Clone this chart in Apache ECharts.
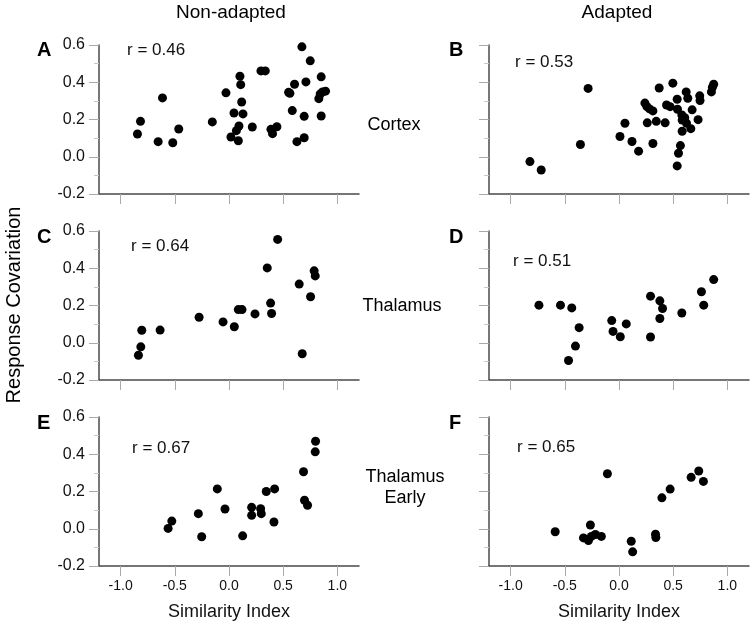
<!DOCTYPE html>
<html>
<head>
<meta charset="utf-8">
<script src="https://cdn.jsdelivr.net/npm/echarts@6/dist/echarts.min.js"></script>
<style>html,body{margin:0;padding:0;background:#fff}#c{width:750px;height:624px}</style>
</head>
<body>
<div id="c"></div>
<script>
// ---- Data (Similarity Index, Response Covariation) ----
const cortexNonAdapted = [
  [-0.845,0.122],[-0.817,0.190],[-0.614,0.316],[-0.654,0.081],[-0.519,0.075],[-0.464,0.149],
  [-0.154,0.187],[-0.028,0.343],[0.018,0.106],[0.046,0.235],[0.086,0.086],[0.068,0.140],
  [0.092,0.165],[0.101,0.432],[0.108,0.387],[0.117,0.294],[0.129,0.230],[0.215,0.160],
  [0.295,0.461],[0.335,0.461],[0.387,0.147],[0.402,0.124],[0.442,0.161],[0.550,0.346],
  [0.562,0.341],[0.584,0.248],[0.605,0.389],[0.627,0.081],[0.673,0.590],[0.694,0.217],
  [0.694,0.102],[0.710,0.402],[0.750,0.515],[0.851,0.429],[0.851,0.219],[0.829,0.312],
  [0.842,0.337],[0.863,0.348],[0.891,0.352]
];
const cortexAdapted = [
  [-0.822,-0.026],[-0.718,-0.071],[-0.285,0.367],[-0.356,0.066],[0.009,0.109],[0.055,0.180],
  [0.120,0.082],[0.181,0.030],[0.239,0.288],[0.258,0.269],[0.282,0.257],[0.313,0.246],
  [0.261,0.182],[0.313,0.071],[0.344,0.190],[0.371,0.369],[0.426,0.182],[0.439,0.278],
  [0.472,0.269],[0.497,0.395],[0.537,0.309],[0.540,0.255],[0.537,-0.049],[0.549,0.019],
  [0.567,0.060],[0.583,0.137],[0.580,0.224],[0.583,0.197],[0.607,0.210],[0.620,0.348],
  [0.635,0.314],[0.623,0.180],[0.663,0.151],[0.675,0.252],[0.730,0.199],[0.745,0.327],
  [0.748,0.302],[0.853,0.348],[0.862,0.373],[0.874,0.389]
];
const thalamusNonAdapted = [
  [-0.836,-0.067],[-0.814,-0.022],[-0.805,0.067],[-0.636,0.068],[-0.276,0.137],[-0.055,0.112],
  [0.049,0.086],[0.086,0.178],[0.120,0.178],[0.240,0.155],[0.353,0.402],[0.384,0.213],
  [0.393,0.157],[0.449,0.555],[0.648,0.315],[0.676,-0.059],[0.753,0.247],[0.786,0.386],
  [0.796,0.359]
];
const thalamusAdapted = [
  [-0.739,0.202],[-0.540,0.202],[-0.436,0.187],[-0.368,0.081],[-0.402,-0.018],[-0.466,-0.095],
  [-0.067,0.119],[-0.055,0.061],[0.012,0.032],[0.067,0.101],[0.291,0.250],[0.291,0.031],
  [0.377,0.225],[0.402,0.184],[0.377,0.130],[0.580,0.160],[0.761,0.274],[0.782,0.202],
  [0.874,0.339]
];
const earlyNonAdapted = [
  [-0.562,0.002],[-0.528,0.041],[-0.283,0.081],[-0.252,-0.043],[-0.108,0.214],[-0.037,0.106],
  [0.126,-0.038],[0.209,0.115],[0.209,0.072],[0.292,0.108],[0.298,0.081],[0.344,0.200],
  [0.421,0.214],[0.415,0.036],[0.688,0.306],[0.697,0.153],[0.725,0.126],[0.796,0.413],
  [0.799,0.470]
];
const earlyAdapted = [
  [-0.589,-0.016],[-0.328,-0.049],[-0.264,0.020],[-0.282,-0.063],[-0.255,-0.041],[-0.218,-0.031],
  [-0.163,-0.041],[-0.107,0.295],[0.113,-0.067],[0.126,-0.124],[0.337,-0.029],[0.340,-0.047],
  [0.396,0.166],[0.472,0.213],[0.666,0.276],[0.736,0.310],[0.779,0.254]
];

const panelData = [cortexNonAdapted, cortexAdapted, thalamusNonAdapted, thalamusAdapted, earlyNonAdapted, earlyAdapted];
const panelLetters = ['A','B','C','D','E','F'];
const rLabels = ['r = 0.46','r = 0.53','r = 0.64','r = 0.51','r = 0.67','r = 0.65'];
const columnTitles = ['Non-adapted','Adapted'];
const rowLabels = ['Cortex','Thalamus','Thalamus\nEarly'];
const xTicks = [-1.0,-0.5,0.0,0.5,1.0];
const xTitle = 'Similarity Index';
const yTitle = 'Response Covariation';

// ---- Layout ----
const FONT = '"Liberation Sans", Arial, Helvetica, sans-serif';
const colLeft = [99, 489];
const rowTop = [45, 231, 417];
const gw = 260, gh = 149;
const axisColor = '#4a4a4a';
const tickColor = '#aaaaaa';

const grids = [], xAxes = [], yAxes = [], series = [], graphics = [];
for (let i = 0; i < 6; i++) {
  const col = i % 2, row = Math.floor(i / 2);
  grids.push({left: colLeft[col], top: rowTop[row], width: gw, height: gh, outerBoundsMode: 'none'});
  xAxes.push({
    gridIndex: i, type: 'value', min: -1.2, max: 1.2,
    axisLine: {show: true, onZero: false, lineStyle: {color: axisColor, width: 1.5}},
    axisTick: {show: true, customValues: xTicks, length: 10, lineStyle: {color: tickColor, width: 1}},
    axisLabel: {show: row === 2, customValues: xTicks, fontSize: 14, color: '#111', fontFamily: FONT, margin: 13,
      formatter: v => v.toFixed(1)},
    splitLine: {show: false}
  });
  yAxes.push({
    gridIndex: i, type: 'value', min: -0.2, max: 0.6, interval: 0.2,
    axisLine: {show: true, onZero: false, lineStyle: {color: axisColor, width: 1.5}},
    axisTick: {show: true, length: 10, lineStyle: {color: tickColor, width: 1}},
    minorTick: {show: true, splitNumber: 2, length: 5, lineStyle: {color: '#c8c8c8', width: 1}},
    axisLabel: {show: col === 0, fontSize: 16, color: '#111', fontFamily: FONT, margin: 14,
      formatter: v => v.toFixed(1)},
    splitLine: {show: false}, minorSplitLine: {show: false}
  });
  series.push({
    type: 'scatter', xAxisIndex: i, yAxisIndex: i, data: panelData[i],
    symbol: 'circle', symbolSize: 9, itemStyle: {color: '#000', opacity: 1}, silent: true
  });
}

const rPos = [[127,51],[515,63],[131,247],[513,262],[132,449],[517,448]];
const letterPos = [[37,51],[449,51],[37,238],[449,238],[37,424],[449,424]];
for (let i = 0; i < 6; i++) {
  graphics.push({type:'text', left: rPos[i][0], top: rPos[i][1] - 9,
    style:{text: rLabels[i], font: '17px ' + FONT, fill:'#111'}});
  graphics.push({type:'text', left: letterPos[i][0], top: letterPos[i][1] - 11,
    style:{text: panelLetters[i], font: 'bold 20px ' + FONT, fill:'#000'}});
}
// column titles
graphics.push({type:'text', x: 231, y: 13, style:{text: columnTitles[0], font: '19px ' + FONT, fill:'#000', align:'center', verticalAlign:'middle'}});
graphics.push({type:'text', x: 617, y: 13, style:{text: columnTitles[1], font: '19px ' + FONT, fill:'#000', align:'center', verticalAlign:'middle'}});
// row labels
const rowLabelPos = [[394,125],[402,306],[405,488]];
for (let r = 0; r < 3; r++) {
  graphics.push({type:'text', x: rowLabelPos[r][0], y: rowLabelPos[r][1],
    style:{text: rowLabels[r], font: '18px ' + FONT, fill:'#000', align:'center', verticalAlign:'middle', lineHeight: 21}});
}
// x titles
graphics.push({type:'text', x: 229, y: 612, style:{text: xTitle, font: '18px ' + FONT, fill:'#111', align:'center', verticalAlign:'middle'}});
graphics.push({type:'text', x: 619, y: 612, style:{text: xTitle, font: '18px ' + FONT, fill:'#111', align:'center', verticalAlign:'middle'}});
// y title
graphics.push({type:'text', x: 14, y: 305, rotation: Math.PI/2,
  style:{text: yTitle, font: '20px ' + FONT, fill:'#000', align:'center', verticalAlign:'middle'}});

const chart = echarts.init(document.getElementById('c'), null, {renderer: 'canvas'});
chart.setOption({
  animation: false,
  backgroundColor: '#fff',
  grid: grids, xAxis: xAxes, yAxis: yAxes, series: series, graphic: graphics
});
</script>
</body>
</html>
